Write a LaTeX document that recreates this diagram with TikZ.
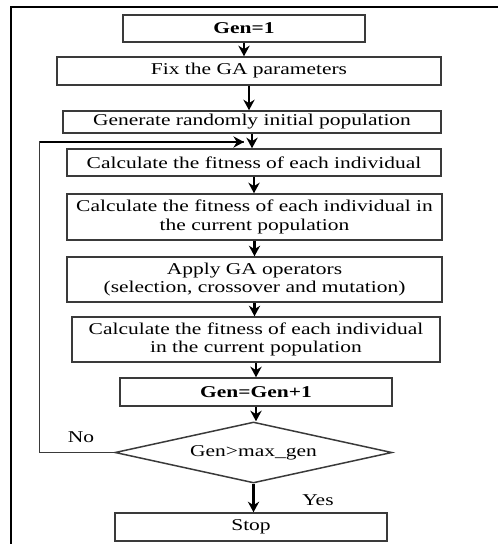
\documentclass[tikz,border=0pt]{standalone}
\usepackage{fontspec}
\setmainfont{Liberation Serif}[FakeStretch=1.3]
\usetikzlibrary{arrows.meta,shapes.geometric}
\definecolor{ink}{HTML}{000000}
\definecolor{edge}{HTML}{3A3A3A}
\newcommand{\nine}{\fontsize{9.4}{10.4}\selectfont}
\tikzset{
 every node/.append style={font=\nine,text=ink,align=center},
 box/.style={draw=edge,fill=white,line width=.85pt,inner sep=2pt},
 test/.style={diamond,draw=edge,line width=.85pt,aspect=4.5,inner sep=0pt,minimum width=5.54cm,minimum height=1.22cm},
 word/.style={inner sep=1pt},
 flow/.style={-{Stealth[length=6pt,width=6.4pt]},draw=ink,line width=1.2pt},
 route/.style={draw=edge,line width=.85pt},
 frame/.style={draw=ink,line width=1.7pt},
}

\begin{document}
\begin{tikzpicture}

\useasboundingbox (0,0) rectangle (9.96,-10.88);
\draw[frame] (0.22,-10.88) |- (9.96,-0.14);
\node[box,minimum width=4.84cm,minimum height=.54cm] (gen1) at (4.88,-.57) {\textbf{Gen=1}};
\node[box,minimum width=7.68cm,minimum height=.56cm] (fix) at (4.98,-1.42) {Fix the GA parameters};
\node[box,minimum width=7.56cm,minimum height=.42cm] (init) at (5.04,-2.44) {Generate randomly initial population};
\node[box,minimum width=7.48cm,minimum height=.54cm] (fit) at (5.08,-3.25) {Calculate the fitness of each individual};
\node[box,minimum width=7.50cm,minimum height=.92cm] (fitpop) at (5.09,-4.34) {Calculate the fitness of each individual in\\the current population};
\node[box,minimum width=7.50cm,minimum height=.90cm] (ops) at (5.09,-5.59) {Apply GA operators\\(selection, crossover and mutation)};
\node[box,minimum width=7.36cm,minimum height=.90cm] (fitnew) at (5.12,-6.79) {Calculate the fitness of each individual\\in the current population};
\node[box,minimum width=5.44cm,minimum height=.56cm] (incr) at (5.12,-7.84) {\textbf{Gen=Gen+1}};
\node[test] (check) at (5.07,-9.05) {Gen>max\_gen};
\node[box,minimum width=5.44cm,minimum height=.56cm] (stop) at (5.02,-10.54) {Stop};
\coordinate (back) at (4.88,-2.84);
\draw[flow] (gen1.south) -- (gen1.south |- fix.north);
\draw[flow] (fix.south) -- (fix.south |- init.north);
\draw[flow] (init.south) -- (init.south |- fit.north);
\draw[flow] (fit.south) -- (fit.south |- fitpop.north);
\draw[flow] (fitpop.south) -- (fitpop.south |- ops.north);
\draw[flow] (ops.south) -- (ops.south |- fitnew.north);
\draw[flow] (fitnew.south) -- (fitnew.south |- incr.north);
\draw[flow] (incr.south) -- (incr.south |- check.north);
\draw[flow,line width=1.7pt] (check.south) -- (check.south |- stop.north);
\draw[route] (check.west) -- ++(-1.5,0) |- (back);
\draw[flow] (0.80,-2.84) -- (back);
\node[word] (no) at (1.62,-8.74) {No};
\node[word] (yes) at (6.36,-10.0) {Yes};

\end{tikzpicture}
\end{document}
